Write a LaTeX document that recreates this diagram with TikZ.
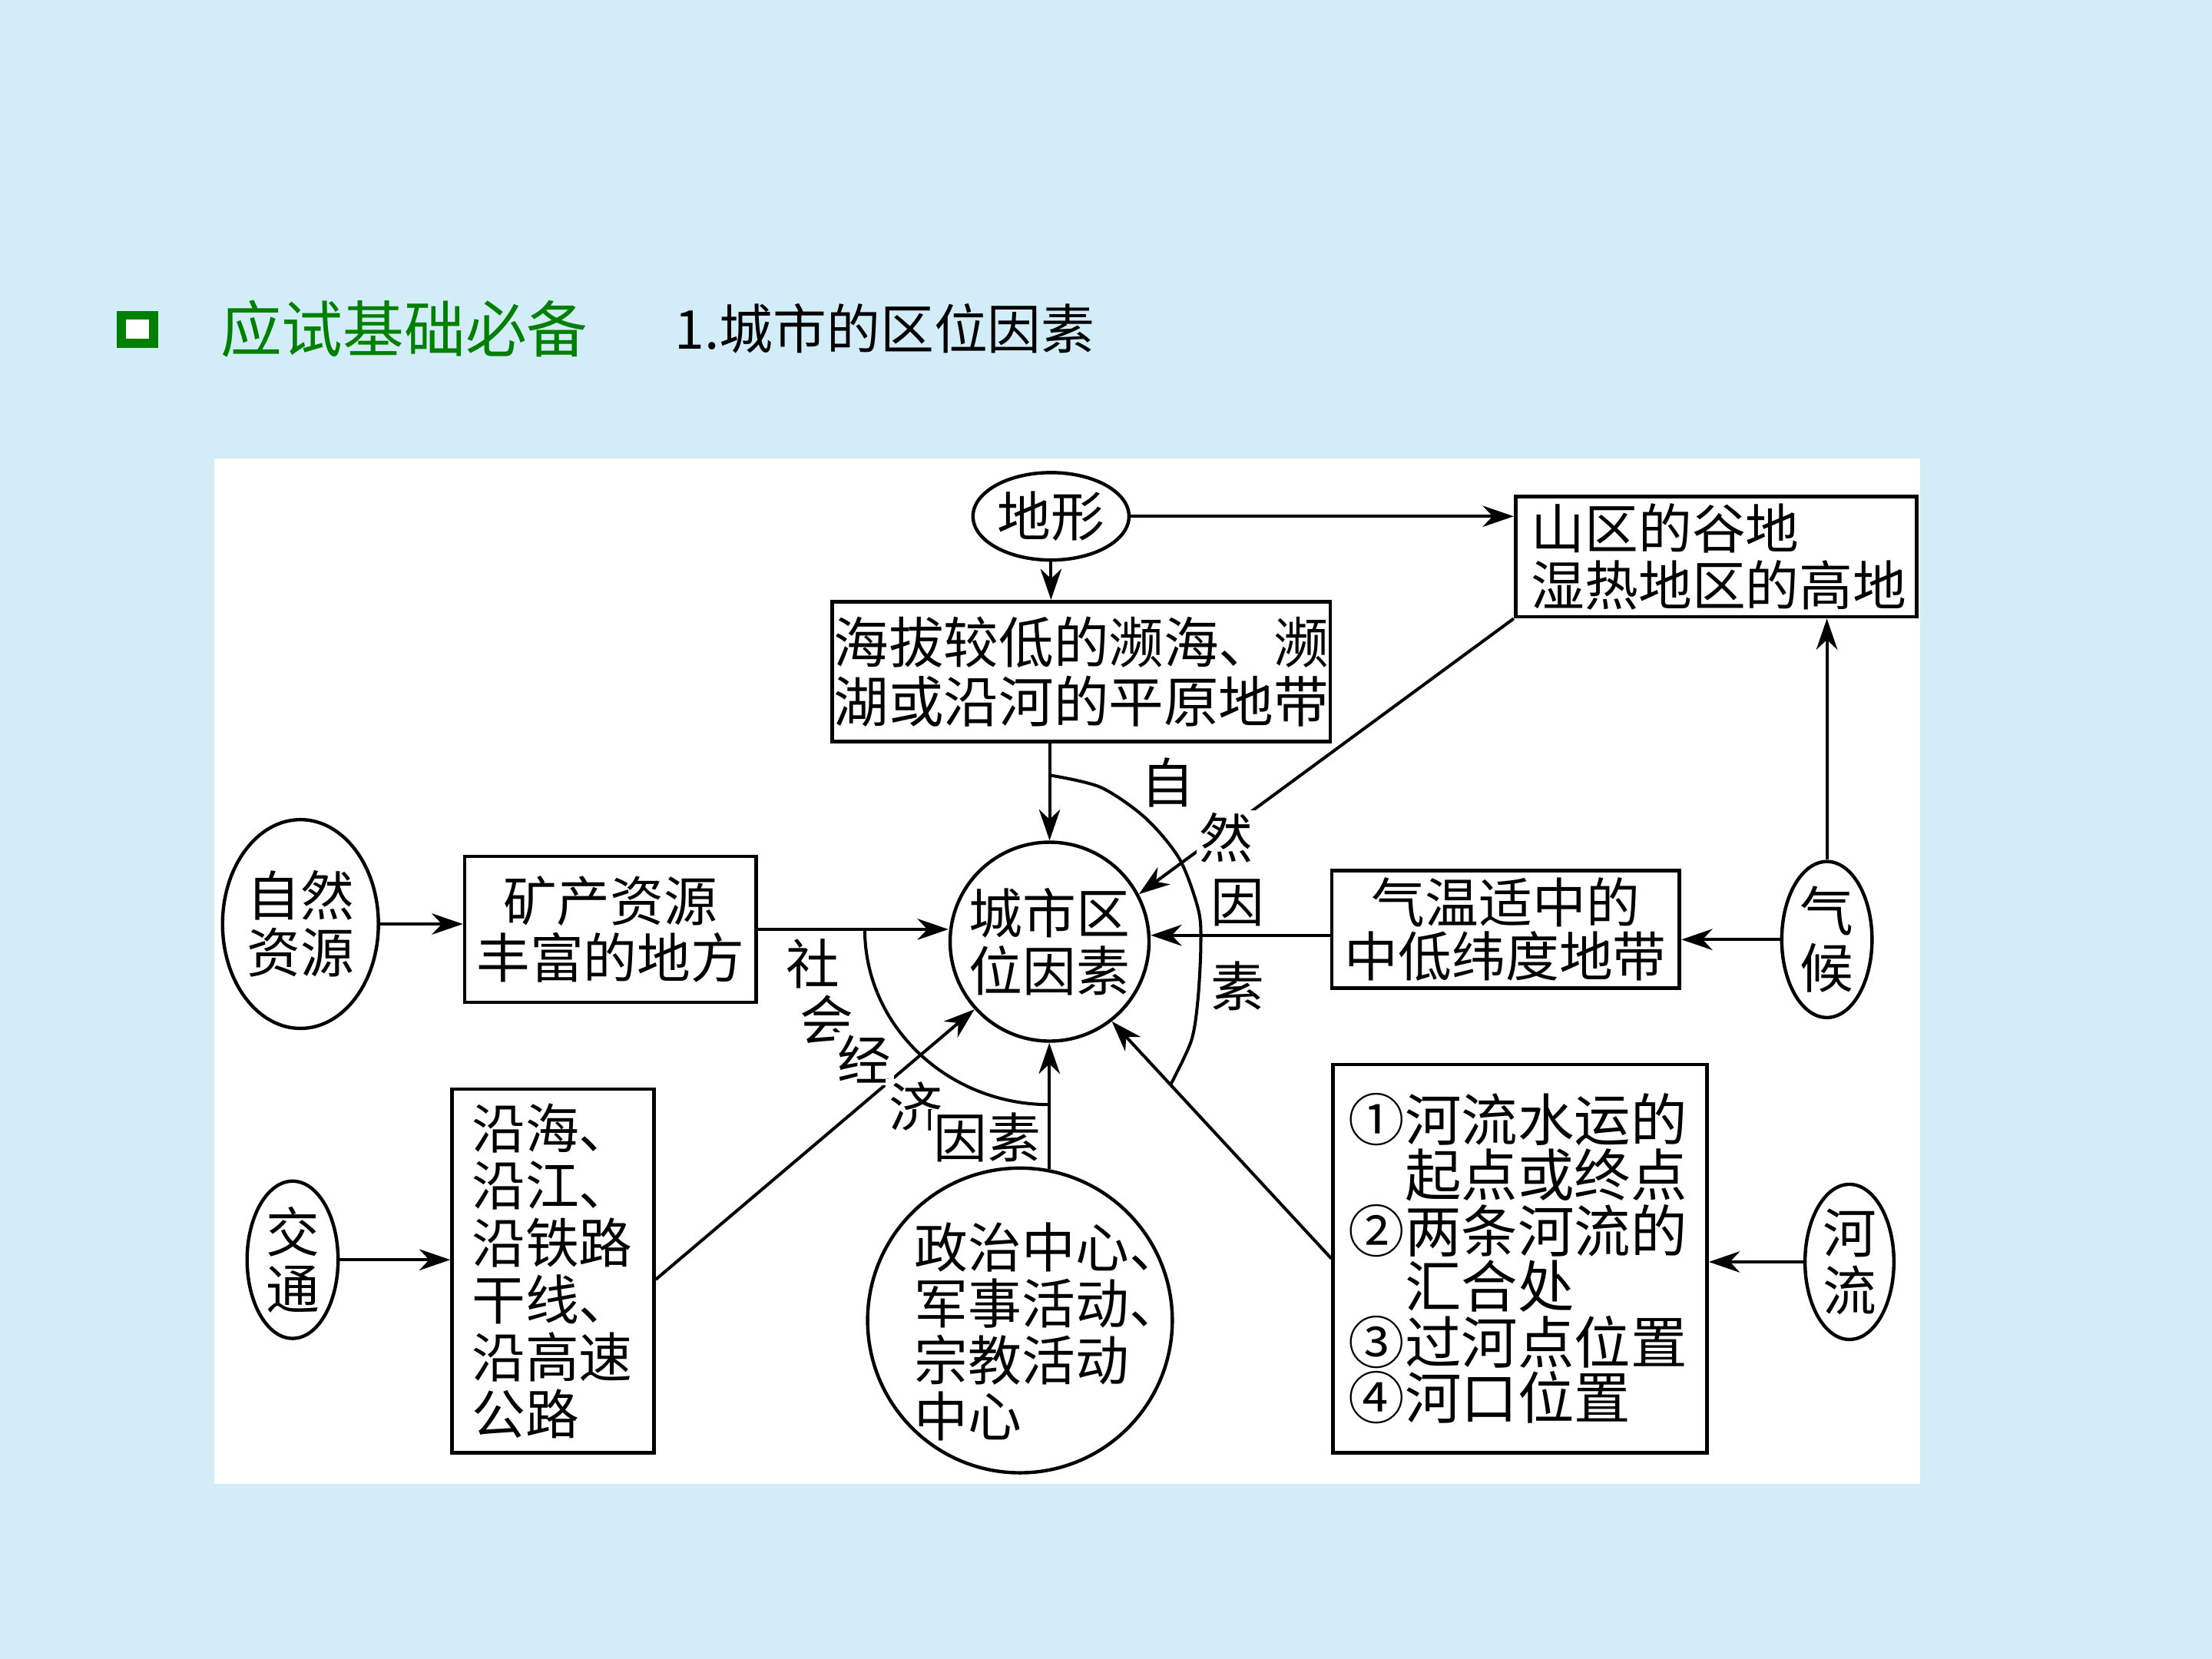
\documentclass[tikz,border=0pt]{standalone}
\usepackage{fontspec}
\setmainfont{Noto Sans CJK SC}
\usetikzlibrary{arrows.meta,shapes.geometric,calc}
\definecolor{bgblue}{RGB}{210,236,248}
\definecolor{titlegreen}{RGB}{0,128,0}
\newcommand{\diagfont}{\fontsize{19}{20.25}\selectfont}
\begin{document}
\begin{tikzpicture}[x=0.5pt,y=-0.5pt,
  every node/.style={font=\diagfont, text=black},
  arcline/.style={line width=1.1pt, draw=black},
  arr/.style={line width=1.1pt, draw=black, -{Stealth[length=11pt,width=7.5pt,inset=3.5pt]}},
  boxnode/.style={draw, line width=1.3pt, rectangle, inner sep=0pt, fill=white},
  ovalnode/.style={draw, line width=1.2pt, ellipse, inner sep=0pt, fill=white},
  labnode/.style={fill=white, inner sep=1pt}]
\useasboundingbox (0,0) rectangle (1568,1176);
\fill[bgblue] (0,0) rectangle (1568,1176);
\fill[white] (152,325) rectangle (1361,1052);

% title
\draw[titlegreen, line width=3.2pt, fill=white] (86,223.5) rectangle (109,243.5);
\node[anchor=west, inner sep=0pt, text=titlegreen, font=\fontsize{21.7}{24}\selectfont] (t1) at (156,233) {应试基础必备};
\node[anchor=west, inner sep=0pt, font=\fontsize{19}{22}\selectfont] (t2) at (478,233) {1.城市的区位因素};

% nodes
\node[ovalnode, minimum width=55.3pt, minimum height=31pt] (dx) at (745,366) {地形};
\node[boxnode, minimum width=142.2pt, minimum height=42.6pt, text width=131pt, inner xsep=5.5pt, align=left] (shan) at (1216.5,394.6) {山区的谷地\\湿热地区的高地};
\node[boxnode, minimum width=176.5pt, minimum height=49.5pt, align=center, font=\fontsize{19.5}{21}\selectfont] (hai) at (766.5,476) {海拔较低的濒海、濒\\湖或沿河的平原地带};
\node[circle, draw, line width=1.2pt, fill=white, minimum size=70.5pt, inner sep=0pt, align=center] (city) at (744,667.5) {城市区\\位因素};
\node[ovalnode, minimum width=55.25pt, minimum height=74pt, align=center] (zr) at (213,655) {自然\\资源};
\node[boxnode, minimum width=103.3pt, minimum height=51.75pt, align=center] (kc) at (432.7,658.75) {矿产资源\\丰富的地方};
\node[boxnode, minimum width=123.3pt, minimum height=41.75pt, align=center, font=\fontsize{19}{19.1}\selectfont] (qw) at (1067.3,658.75) {气温适中的\\中低纬度地带};
\node[ovalnode, minimum width=32pt, minimum height=55.3pt, align=center] (qh) at (1295,666) {气\\候};
\node[ovalnode, minimum width=32.25pt, minimum height=55.75pt, align=center] (jt) at (207.4,893) {交\\通};
\node[boxnode, minimum width=71.5pt, minimum height=129pt, text width=57.5pt, inner xsep=7pt, align=left] (yh) at (392,901) {沿海、\\沿江、\\沿铁路\\干线、\\沿高速\\公路};
\node[circle, draw, line width=1.2pt, fill=white, minimum size=108pt, inner sep=0pt] (zz) at (723,936) {};
\node[anchor=west, align=left, inner sep=0pt, font=\fontsize{19}{19.9}\selectfont] (zzt) at (648,944) {政治中心、\\军事活动、\\宗教活动\\中心};
\node[boxnode, minimum width=132.5pt, minimum height=137.5pt, text width=121.5pt, inner xsep=5.5pt, align=left, font=\fontsize{20}{19.7}\selectfont] (hb) at (1077.5,892.1) {①河流水运的\\\phantom{①}起点或终点\\②两条河流的\\\phantom{①}汇合处\\③过河点位置\\④河口位置};
\node[ovalnode, minimum width=31.5pt, minimum height=55pt, align=center] (hl) at (1311,894.5) {河\\流};

% bracket arcs
\draw[arcline] plot[smooth] coordinates {(744,549.5) (780,558) (811.8,579.7) (836.1,608.9) (849.5,645) (851.2,670) (849.2,707.8) (844.5,737.6) (830,768.5)};
\draw[arcline] (613,658.75) .. controls (613,727.5) and (672,783) .. (743.6,783);

% connectors
\coordinate (yq) at (0,663);
\coordinate (yy) at (0,907);
\draw[arr] (dx.east) -- (dx.east -| shan.west);
\draw[arr] (dx.south) -- (dx.south |- hai.north);
\draw[arr] (hai.south -| city.north) -- (city.north);
\draw[arr] (zr.east) -- (zr.east -| kc.west);
\draw[arr] (kc.east) -- (kc.east -| city.west);
\draw[arr] (qw.west |- yq) -- (city.east |- yq);
\draw[arr] (qh.west) -- (qh.west -| qw.east);
\draw[arr] (qh.north) -- (qh.north |- shan.south);
\draw[arr] (shan.south west) -- (city.28);
\draw[arr] (jt.east) -- (jt.east -| yh.west);
\draw[arr] (yh.east |- yy) -- (city.222);
\draw[arr] (zz.79) -- (zz.79 |- city.south);
\draw[arr] (hb.west) -- (city.-52);
\draw[arr] (hl.west) -- (hl.west -| hb.east);

% labels
\node[labnode] (l1) at (827.6,555) {自};
\node[labnode] (l2) at (869,594) {然};
\node[labnode] (l3) at (877.4,640) {因};
\node[labnode] (l4) at (877.4,699) {素};
\node[labnode] (l5) at (576,683) {社};
\node[labnode] (l6) at (586,723) {会};
\node[labnode] (l7) at (612.5,750.6) {经};
\node[labnode] (l8) at (649,784) {济};
\node[labnode] (l9) at (700,806) {因素};
\end{tikzpicture}
\end{document}
